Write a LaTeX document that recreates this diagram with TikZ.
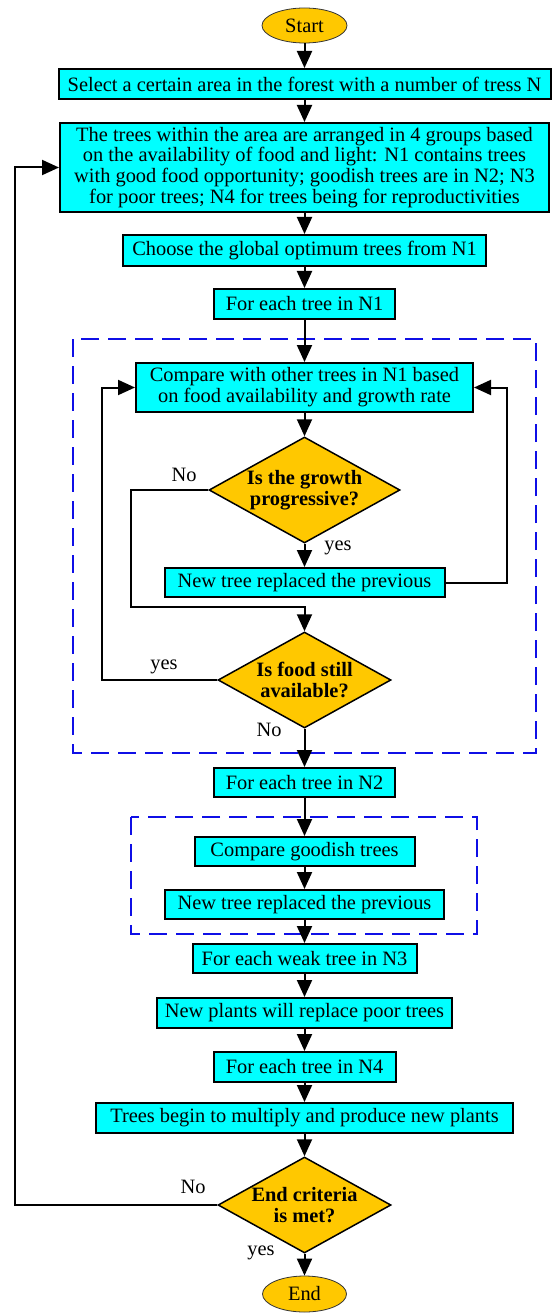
\documentclass[tikz,border=0pt]{standalone}
\usepackage{fontspec}
\setmainfont{Liberation Serif}
\usetikzlibrary{arrows.meta,shapes.geometric}
\definecolor{boxc}{RGB}{0,255,255}
\definecolor{goldc}{RGB}{255,200,0}
\definecolor{dashc}{RGB}{15,15,230}
\begin{document}
\begin{tikzpicture}[x=1pt,y=-1pt,
  box/.style={draw=black, line width=2pt, fill=boxc, inner sep=0pt, align=center,
    font=\fontsize{20.4}{20.8}\selectfont},
  term/.style={shape=ellipse, draw=black!80, line width=0.8pt, fill=goldc, inner sep=0pt,
    font=\fontsize{20.4}{20.8}\selectfont},
  dia/.style={shape=diamond, draw=black, line width=1.5pt, fill=goldc, inner sep=0pt},
  dtext/.style={align=center, inner sep=0pt, font=\fontsize{20.4}{20.8}\selectfont\bfseries},
  lbl/.style={inner sep=0pt, font=\fontsize{20.4}{20.8}\selectfont},
  arr/.style={draw=black, line width=2pt, -{Triangle[length=17pt,width=15pt]}},
  dashbox/.style={draw=dashc, line width=2pt, dash pattern=on 18pt off 9pt}
]
\useasboundingbox (0,0) rectangle (554,1313);

% dashed group frames
\draw[dashbox] (73,339) rectangle (536,753);
\draw[dashbox] (131,817) rectangle (477,934);

\node[term, minimum width=85pt, minimum height=35pt] (st) at (304.5,25.5) {Start};
\node[box, minimum width=492pt, minimum height=30pt] (b1) at (304.5,84)
  {Select a certain area in the forest with a number of tress N};
\node[box, minimum width=489pt, minimum height=89pt] (b2) at (304.5,167.5)
  {The trees within the area are arranged in 4 groups based\\
   on the availability of food and light: N1 contains trees\\
   with good food opportunity; goodish trees are in N2; N3\\
   for poor trees; N4 for trees being for reproductivities};
\node[box, minimum width=363pt, minimum height=31pt] (b3) at (304.5,250.5)
  {Choose the global optimum trees from N1};
\node[box, minimum width=181pt, minimum height=30pt] (b4) at (304.5,304)
  {For each tree in N1};
\node[box, minimum width=337pt, minimum height=49pt] (cmp) at (304.5,387.5)
  {Compare with other trees in N1 based\\on food availability and growth rate};
\node[dia, minimum width=191pt, minimum height=106pt] (d1) at (304.5,490) {};
\node[dtext] (d1t) at (d1) {Is the growth\\progressive?};
\node[box, minimum width=280pt, minimum height=29pt] (nt1) at (304.5,582.5)
  {New tree replaced the previous};
\node[dia, minimum width=173pt, minimum height=96pt] (d2) at (304.5,680) {};
\node[dtext] (d2t) at (d2) {Is food still\\available?};
\node[box, minimum width=181pt, minimum height=29pt] (n2) at (304.5,782.5)
  {For each tree in N2};
\node[box, minimum width=220pt, minimum height=29pt] (cg) at (304.5,851.5)
  {Compare goodish trees};
\node[box, minimum width=279pt, minimum height=29pt] (nt2) at (304.5,904.5)
  {New tree replaced the previous};
\node[box, minimum width=224pt, minimum height=29pt] (n3) at (304.5,958.5)
  {For each weak tree in N3};
\node[box, minimum width=295pt, minimum height=30pt] (np) at (304.5,1013)
  {New plants will replace poor trees};
\node[box, minimum width=182pt, minimum height=30pt] (n4) at (304.5,1067)
  {For each tree in N4};
\node[box, minimum width=417pt, minimum height=30pt] (tb) at (304.5,1118)
  {Trees begin to multiply and produce new plants};
\node[dia, minimum width=173pt, minimum height=96pt] (d3) at (304.5,1205) {};
\node[dtext] (d3t) at (d3) {End criteria\\is met?};
\node[term, minimum width=84pt, minimum height=36pt] (en) at (304.5,1294) {End};

% labels
\node[lbl] (l1) at (184,475) {No};
\node[lbl] (l2) at (338,548) {yes};
\node[lbl] (l3) at (164,667) {yes};
\node[lbl] (l4) at (269,730) {No};
\node[lbl] (l5) at (193,1187) {No};
\node[lbl] (l6) at (261,1253) {yes};

% helper coordinates
\coordinate (jn) at (304.5,607);
\coordinate (lxa) at (131,0);
\coordinate (lxb) at (102,0);
\coordinate (rxa) at (507,0);
\coordinate (lxc) at (15,0);

% straight connectors
\draw[arr] (st) -- (b1);
\draw[arr] (b1) -- (b2);
\draw[arr] (b2) -- (b3);
\draw[arr] (b3) -- (b4);
\draw[arr] (b4) -- (cmp);
\draw[arr] (cmp) -- (d1.north);
\draw[arr] (d1.south) -- (nt1);
\draw[arr] (d2.south) -- (n2);
\draw[arr] (n2) -- (cg);
\draw[arr] (cg) -- (nt2);
\draw[arr] (nt2) -- (n3);
\draw[arr] (n3) -- (np);
\draw[arr] (np) -- (n4);
\draw[arr] (n4) -- (tb);
\draw[arr] (tb) -- (d3.north);
\draw[arr] (d3.south) -- (en);

% loops
\draw[arr] (d1.west) -- (d1.west -| lxa) -- (lxa |- jn) -- (jn) -- (d2.north);
\draw[arr] (nt1.east) -- (nt1.east -| rxa) -- (rxa |- cmp.east) -- (cmp.east);
\draw[arr] (d2.west) -- (d2.west -| lxb) -- (lxb |- cmp.west) -- (cmp.west);
\draw[arr] (d3.west) -- (d3.west -| lxc) -- (lxc |- b2.west) -- (b2.west);
\end{tikzpicture}
\end{document}
